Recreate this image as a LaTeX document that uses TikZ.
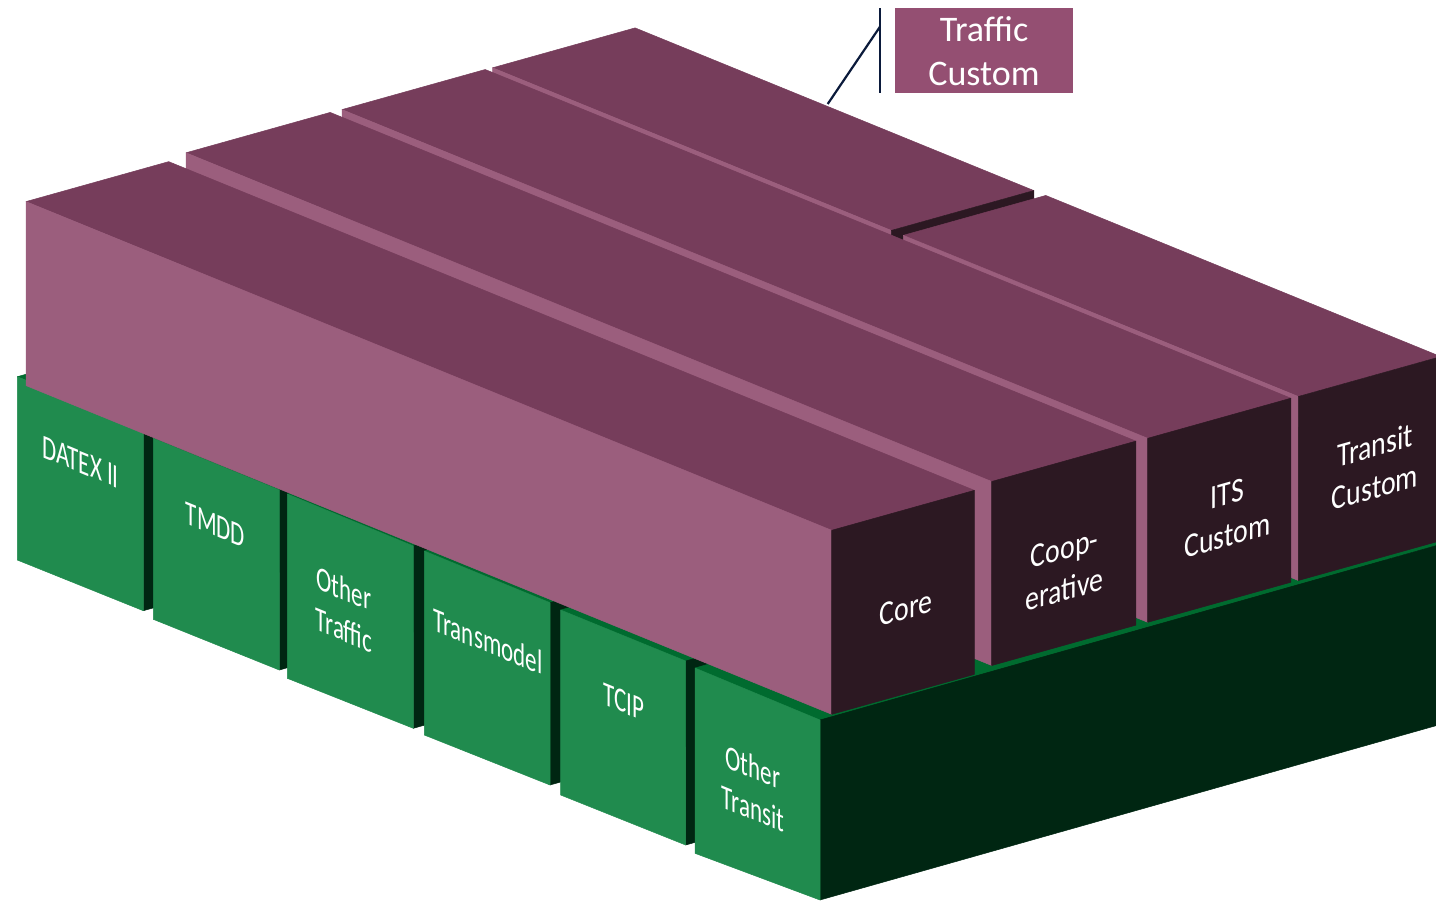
\documentclass[tikz,border=0pt]{standalone}
\usepackage{fontspec}
\setmainfont{Carlito}
\usetikzlibrary{calc}

\definecolor{ptop}{HTML}{763D5B}
\definecolor{pside}{HTML}{9B5E7D}
\definecolor{pfront}{HTML}{2C1822}
\definecolor{ptag}{HTML}{944F72}
\definecolor{gface}{HTML}{208B4E}
\definecolor{gtop}{HTML}{006B2F}
\definecolor{gdark}{HTML}{002612}
\definecolor{navy}{HTML}{0B1A3B}

\tikzset{
  face/.style={fill=#1, draw=#1, line width=0.25pt, line join=round},
  glabel/.style={text=white, font=\fontsize{17}{20.7}\selectfont, align=center,
    inner sep=0pt, cm={0.677,-0.278,0,1,(0,0)}},
  plabel/.style={text=white, font=\fontsize{17}{20.7}\selectfont, align=center,
    inner sep=0pt, cm={0.82,0.23,0,1,(0,0)}},
  tagbox/.style={fill=ptag, text=white, font=\fontsize{18}{22}\selectfont, align=center,
    inner sep=0pt, minimum width=89pt, minimum height=42.7pt},
  leader/.style={draw=navy, line width=1.1pt},
}

% green block: front face corners top-left, top-right, bottom-right, bottom-left;
% top and side faces run back along the depth axis
\newcommand\greenblock[5]{%
  \coordinate (#1tl) at #2; \coordinate (#1tr) at #3;
  \coordinate (#1br) at #4; \coordinate (#1bl) at #5;
  \path[face=gtop] (#1tl) -- (#1tr) -- ($(#1tr)+(700,-198.1)$) -- ($(#1tl)+(700,-198.1)$) -- cycle;
  \path[face=gdark] (#1tr) -- (#1br) -- ($(#1br)+(700,-198.1)$) -- ($(#1tr)+(700,-198.1)$) -- cycle;
  \path[face=gface] (#1tl) -- (#1tr) -- (#1br) -- (#1bl) -- cycle;
}

% purple bar: front-bottom-left corner, width, start and end along the length
\newcommand\purplebar[4]{%
  \begin{scope}[shift={(#1)}, x={(-0.5pt,0.204pt)}, y={(0.5pt,0.14pt)}, z={(0pt,0.5pt)}]
    \path[face=ptop] (#3,0,184) -- (#4,0,184) -- (#4,#2,184) -- (#3,#2,184) -- cycle;
    \path[face=pside] (#3,0,0) -- (#4,0,0) -- (#4,0,184) -- (#3,0,184) -- cycle;
    \path[face=pfront] (#3,0,0) -- (#3,#2,0) -- (#3,#2,184) -- (#3,0,184) -- cycle;
  \end{scope}}

\begin{document}
\begin{tikzpicture}[x=0.5pt, y=-0.5pt]
  \useasboundingbox (0,0) rectangle (1436,901);
  \fill[white] (0,0) rectangle (1436,901);
  \clip (0,0) rectangle (1436,901);

  % green base blocks, back to front
  \greenblock{g1}{(17.3,376.7)}{(143.3,428.4)}{(143.3,610.7)}{(17.3,560)}
  \greenblock{g2}{(153.3,438.3)}{(279.3,490)}{(279.3,670)}{(153.3,619.3)}
  \greenblock{g3}{(287.3,494)}{(413.3,546)}{(413.3,728.3)}{(287.3,678.3)}
  \greenblock{g4}{(424.3,551)}{(550,602.7)}{(550,785)}{(424.3,735)}
  \greenblock{g5}{(560.7,610)}{(685.7,661)}{(685.7,845)}{(560.7,795)}
  \greenblock{g6}{(695,668)}{(820,720)}{(820,900)}{(695,853.3)}

  % purple bars, back to front
  \coordinate (p4) at (1298.3,580.5);
  \coordinate (p3) at (1147.7,622.3);
  \coordinate (p2) at (991.7,665.5);
  \coordinate (p1) at (831.7,714.3);
  \purplebar{p4}{142.5}{407}{805.7}
  \purplebar{p4}{142.5}{0}{395}
  \purplebar{p3}{143.2}{0}{805.7}
  \purplebar{p2}{144.2}{0}{805.7}
  \purplebar{p1}{142.7}{0}{805.7}

  % labels on the green faces
  \node[glabel] (datex) at (80.5,462) {DATEX II};
  \node[glabel] (tmdd) at (215.5,525) {TMDD};
  \node[glabel] (otraffic) at (344,609) {Other\\Traffic};
  \node[glabel] (transmodel) at (488,641) {Transmodel};
  \node[glabel] (tcip) at (624,702) {TCIP};
  \node[glabel] (otransit) at (753,787.5) {Other\\Transit};

  % labels on the purple ends
  \node[plabel] (core) at (906,608) {Core};
  \node[plabel] (coop) at (1064.5,569) {Coop-\\erative};
  \node[plabel] (its) at (1227.4,514.7) {ITS\\Custom};
  \node[plabel] (tcust) at (1375,466) {Transit\\Custom};

  % callout for the rear block
  \node[tagbox] (tag) at (984,50.7) {Traffic\\Custom};
  \coordinate (barTop) at (880,8);
  \coordinate (barBot) at (880,93.3);
  \coordinate (elbow) at (880,26.7);
  \coordinate (tip) at (827.7,104);
  \draw[leader, line width=1.3pt] (barTop) -- (barBot);
  \draw[leader] (elbow) -- (tip);
\end{tikzpicture}
\end{document}
